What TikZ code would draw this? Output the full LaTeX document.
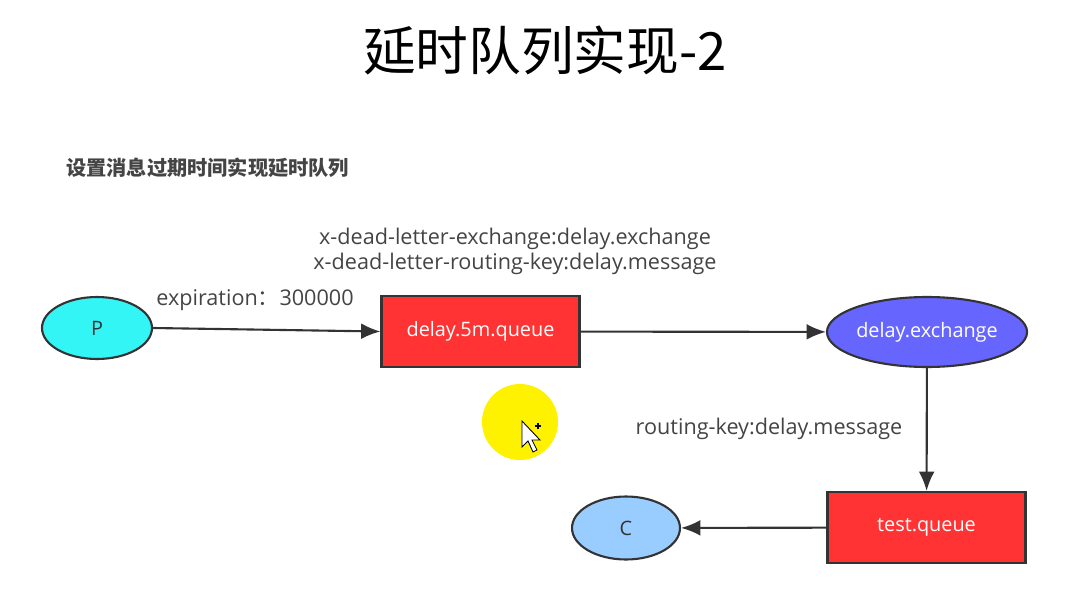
\documentclass[tikz,border=0pt]{standalone}
\usepackage{fontspec}
\setmainfont{Open Sans}
\newfontfamily\cjk{Noto Sans CJK SC}
\usetikzlibrary{shapes.geometric,arrows.meta}
\definecolor{pcyan}{HTML}{33F5F5}
\definecolor{qred}{HTML}{FF3333}
\definecolor{exblue}{HTML}{6666FF}
\definecolor{cblue}{HTML}{99CCFF}
\definecolor{linegray}{HTML}{333333}
\definecolor{labelgray}{HTML}{444444}
\definecolor{hiyellow}{HTML}{FFF200}

\begin{document}
\begin{tikzpicture}[x=0.02cm,y=-0.02cm,
  font=\fontsize{11.3}{14}\selectfont,
  ell/.style={ellipse,draw=linegray,line width=1.2pt,inner sep=0pt},
  queuebox/.style={rectangle,draw=linegray,line width=1.2pt,fill=qred,text=white,
    minimum width=3.96cm,minimum height=1.42cm},
  flow/.style={draw=linegray,line width=1.2pt,-{Latex[length=11pt,width=9pt]}},
  lbl/.style={text=labelgray,font=\fontsize{12.3}{14.2}\selectfont}]
  \useasboundingbox (0,0) rectangle (1089,612);
  % cursor highlight
  \fill[hiyellow] (520,422) circle (38);
  \draw[black,fill=white,line width=0.5pt] (522,421) -- (522,447) -- (528,441) -- (533,452)
    -- (537,450) -- (532,440) -- (540,440) -- cycle;
  \draw[black,line width=0.7pt] (535,426) -- (541,426) (538,423) -- (538,429);
  % headings
  \node[font=\cjk\fontsize{30}{32}\selectfont] (title) at (545,50) {延时队列实现-2};
  \node[font=\cjk\bfseries\fontsize{11.5}{13}\selectfont,text=labelgray,anchor=west] (sub) at (60,168) {设置消息过期时间实现延时队列};
  % nodes
  \node[ell,fill=pcyan,text=linegray,minimum width=2.2cm,minimum height=1.24cm] (P) at (97,328) {P};
  \node[queuebox] (dq) at (480.5,331.5) {delay.5m.queue};
  \node[ell,fill=exblue,text=white,minimum width=3.88cm,minimum height=1.4cm] (ex) at (927,332) {delay.exchange};
  \node[queuebox] (tq) at (926.5,527.5) {test.queue};
  \node[ell,fill=cblue,text=linegray,minimum width=2.16cm,minimum height=1.26cm] (C) at (626,528) {C};
  % connectors
  \draw[flow] (P.east) -- (dq.west);
  \draw[flow] (dq) -- (ex);
  \draw[flow] (ex) -- (tq);
  \draw[flow] (tq) -- (C);
  % labels
  \node[lbl,align=center] (dlx) at (515,251) {x-dead-letter-exchange:delay.exchange\\x-dead-letter-routing-key:delay.message};
  \node[lbl] (exp) at (255,300) {expiration{\cjk ：}300000};
  \node[lbl] (rk) at (769,429) {routing-key:delay.message};
\end{tikzpicture}
\end{document}
